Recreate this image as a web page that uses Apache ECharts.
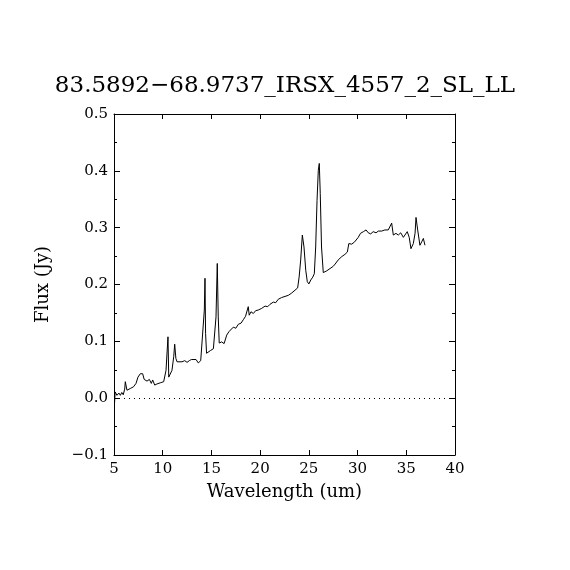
<!DOCTYPE html>
<html>
<head>
<meta charset="utf-8">
<script src="https://cdn.jsdelivr.net/npm/echarts@6/dist/echarts.min.js"></script>
<style>
  html, body { margin: 0; padding: 0; background: #fff; }
  #chart { width: 570px; height: 570px; }
</style>
</head>
<body>
<div id="chart"></div>
<script>
const chartTitle = '83.5892\u221268.9737_IRSX_4557_2_SL_LL';

// wavelength (um) and flux (Jy)
const wavelength = [
  5.05, 5.12, 5.3, 5.5, 5.65, 5.8, 5.95, 6.1, 6.16, 6.33, 6.5, 6.67, 7.0, 7.26, 7.46, 7.7, 7.94,
  8.1, 8.39, 8.63, 8.83, 8.97, 9.18, 9.41, 9.75, 10.1, 10.34, 10.54, 10.62, 10.78, 10.95, 11.13,
  11.23, 11.35, 11.47, 11.64, 11.98, 12.1, 12.26, 12.5, 12.73, 12.94, 13.14, 13.42, 13.65, 13.9,
  14.1, 14.27, 14.34, 14.4, 14.5, 14.68, 14.92, 15.2, 15.37, 15.47, 15.6, 15.7, 15.8, 16.05,
  16.3, 16.57, 16.8, 17.0, 17.25, 17.5, 17.76, 18.04, 18.27, 18.5, 18.78, 18.88, 19.06, 19.3,
  19.54, 19.8, 20.16, 20.5, 20.78, 21.0, 21.35, 21.6, 21.86, 22.2, 22.55, 22.9, 23.24, 23.58,
  23.85, 24.0, 24.16, 24.33, 24.5, 24.68, 24.84, 25.0, 25.2, 25.4, 25.56, 25.7, 25.84, 25.97,
  26.07, 26.17, 26.3, 26.48, 26.83, 27.17, 27.5, 27.7, 28.0, 28.37, 28.7, 28.95, 29.1, 29.4,
  29.7, 30.07, 30.3, 30.6, 30.87, 31.1, 31.35, 31.6, 31.9, 32.13, 32.48, 32.8, 33.15, 33.33,
  33.5, 33.67, 33.94, 34.18, 34.43, 34.7, 34.87, 35.1, 35.3, 35.48, 35.72, 35.9, 36.0, 36.17,
  36.4, 36.58, 36.75, 36.92
];
const flux = [
  -0.01, 0.011, 0.005, 0.009, 0.005, 0.01, 0.006, 0.016, 0.029, 0.014, 0.015, 0.017, 0.02, 0.026, 0.037, 0.043, 0.043,
  0.033, 0.03, 0.033, 0.026, 0.032, 0.023, 0.025, 0.027, 0.029, 0.049, 0.108, 0.037, 0.037, 0.049, 0.073,
  0.095, 0.07, 0.064, 0.061, 0.064, 0.062, 0.066, 0.063, 0.066, 0.068, 0.066, 0.068, 0.062, 0.066,
  0.069, 0.155, 0.211, 0.114, 0.079, 0.076, 0.084, 0.087, 0.09, 0.143, 0.237, 0.143, 0.097, 0.099,
  0.096, 0.111, 0.117, 0.114, 0.125, 0.123, 0.13, 0.132, 0.138, 0.144, 0.161, 0.146, 0.152, 0.149,
  0.154, 0.155, 0.158, 0.162, 0.161, 0.165, 0.169, 0.168, 0.174, 0.177, 0.179, 0.181, 0.185, 0.19,
  0.194, 0.213, 0.243, 0.287, 0.266, 0.225, 0.205, 0.201, 0.208, 0.213, 0.219, 0.266, 0.348, 0.401,
  0.413, 0.36, 0.266, 0.221, 0.224, 0.228, 0.232, 0.236, 0.243, 0.249, 0.253, 0.257, 0.272, 0.271,
  0.275, 0.283, 0.29, 0.293, 0.296, 0.291, 0.289, 0.293, 0.291, 0.294, 0.294, 0.296, 0.296, 0.299,
  0.308, 0.287, 0.29, 0.287, 0.291, 0.283, 0.281, 0.293, 0.283, 0.263, 0.272, 0.29, 0.318, 0.296,
  0.269, 0.275, 0.281, 0.269
];

const FONT = '"DejaVu Serif", "Liberation Serif", serif';
const black = '#000';

const chart = echarts.init(document.getElementById('chart'), null, { renderer: 'canvas' });

const tickLabel = {
  color: black,
  fontFamily: FONT,
  fontSize: 15,
};

const option = {
  backgroundColor: '#fff',
  animation: false,
  title: {
    text: chartTitle,
    left: 'center',
    top: 70,
    textStyle: { color: black, fontFamily: FONT, fontSize: 23, fontWeight: 'normal' },
  },
  grid: { left: 114, right: 115, top: 114, bottom: 115 },
  xAxis: [
    {
      type: 'value',
      min: 5,
      max: 40,
      interval: 5,
      name: 'Wavelength (um)',
      nameLocation: 'middle',
      nameGap: 28,
      nameTextStyle: { color: black, fontFamily: FONT, fontSize: 18 },
      axisLine: { onZero: false, lineStyle: { color: black, width: 1 } },
      axisTick: { inside: true, length: 5, lineStyle: { color: black } },
      axisLabel: { ...tickLabel, margin: 7 },
      splitLine: { show: false },
    },
    {
      type: 'value',
      position: 'top',
      min: 5,
      max: 40,
      interval: 5,
      axisLine: { onZero: false, lineStyle: { color: black, width: 1 } },
      axisTick: { inside: true, length: 5, lineStyle: { color: black } },
      axisLabel: { show: false },
      splitLine: { show: false },
    },
  ],
  yAxis: [
    {
      type: 'value',
      min: -0.1,
      max: 0.5,
      interval: 0.1,
      name: 'Flux (Jy)',
      nameLocation: 'middle',
      nameGap: 62,
      nameTextStyle: { color: black, fontFamily: FONT, fontSize: 18 },
      axisLine: { onZero: false, lineStyle: { color: black, width: 1 } },
      axisTick: { inside: true, length: 6, lineStyle: { color: black } },
      minorTick: { show: true, splitNumber: 2, length: 3, lineStyle: { color: black } },
      axisLabel: {
        ...tickLabel,
        margin: 6,
        formatter: (v) => v.toFixed(1).replace('-', '\u2212'),
      },
      splitLine: { show: false },
    },
    {
      type: 'value',
      position: 'right',
      min: -0.1,
      max: 0.5,
      interval: 0.1,
      axisLine: { onZero: false, lineStyle: { color: black, width: 1 } },
      axisTick: { inside: true, length: 6, lineStyle: { color: black } },
      minorTick: { show: true, splitNumber: 2, length: 3, lineStyle: { color: black } },
      axisLabel: { show: false },
      splitLine: { show: false },
    },
  ],
  series: [
    {
      type: 'line',
      xAxisIndex: 0,
      yAxisIndex: 0,
      data: wavelength.map((w, i) => [w, flux[i]]),
      showSymbol: false,
      symbol: 'none',
      lineStyle: { color: black, width: 1 },
      markLine: {
        silent: true,
        symbol: 'none',
        label: { show: false },
        lineStyle: { color: black, width: 1, type: [1, 4] },
        data: [{ yAxis: 0 }],
      },
    },
  ],
};

chart.setOption(option);
</script>
</body>
</html>
